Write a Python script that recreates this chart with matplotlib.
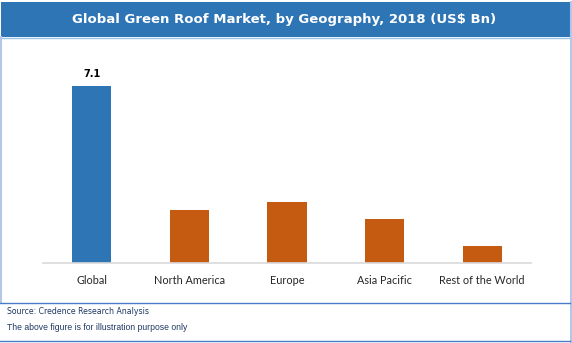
import matplotlib.pyplot as plt
from matplotlib.patches import Rectangle
from matplotlib.lines import Line2D

W, H = 572, 343

regions = ["Global", "North America", "Europe", "Asia Pacific", "Rest of the World"]
market_size = [7.1, 2.1, 2.43, 1.75, 0.66]
bar_colors = ["#2E75B6", "#C55A11", "#C55A11", "#C55A11", "#C55A11"]
value_labels = ["7.1", "", "", "", ""]

title = "Global Green Roof Market, by Geography, 2018 (US$ Bn)"
source_note = "Source: Credence Research Analysis"
footer_note = "The above figure is for illustration purpose only"


def fx(px):
    return px / W


def fy(py):
    return 1 - py / H


fig = plt.figure(figsize=(W / 100, H / 100), dpi=100)
fig.patch.set_facecolor("white")

# title bar
fig.patches.append(Rectangle((fx(1), fy(36.5)), fx(569), 34.5 / H,
                             transform=fig.transFigure, facecolor="#2E75B6",
                             edgecolor="none"))
fig.lines.append(Line2D([fx(1), fx(570)], [fy(37.5), fy(37.5)],
                        transform=fig.transFigure, color="#9DC3E6", lw=1))
fig.text(fx(284), fy(19.5), title, color="white", fontsize=9.5,
         fontweight="bold", ha="center", va="center", family="DejaVu Sans")

# side borders
fig.lines.append(Line2D([fx(1), fx(1)], [fy(37), fy(302)],
                        transform=fig.transFigure, color="#B4C7E7", lw=1.5))
fig.lines.append(Line2D([fx(570.5), fx(570.5)], [fy(2), fy(342)],
                        transform=fig.transFigure, color="#B4C7E7", lw=1.5))

# footer lines
fig.lines.append(Line2D([fx(0), fx(570)], [fy(302.5), fy(302.5)],
                        transform=fig.transFigure, color="#4A7CC9", lw=1))
fig.lines.append(Line2D([fx(0), fx(570)], [fy(341), fy(341)],
                        transform=fig.transFigure, color="#4A7CC9", lw=1))
fig.text(fx(7), fy(311), source_note, color="#1F3864", fontsize=5.6,
         ha="left", va="center", family="Liberation Sans Narrow")
fig.text(fx(7), fy(327.5), footer_note, color="#1F3864", fontsize=6.2,
         ha="left", va="center", family="Liberation Sans")

# plot area
ax_left, ax_right, ax_bottom, ax_top = 43, 531, 262.5, 60
ax = fig.add_axes([fx(ax_left), fy(ax_bottom), (ax_right - ax_left) / W,
                   (ax_bottom - ax_top) / H])
x = list(range(len(regions)))
bars = ax.bar(x, market_size, width=0.4, color=bar_colors, edgecolor="none")
ax.set_xlim(-0.5, len(regions) - 0.5)
ax.set_ylim(0, (ax_bottom - ax_top) / 24.8)

for b, lab in zip(bars, value_labels):
    if lab:
        ax.annotate(lab, (b.get_x() + b.get_width() / 2, b.get_height()),
                    xytext=(0, 5.5), textcoords="offset points", ha="center",
                    va="bottom", fontsize=7, fontweight="bold",
                    family="DejaVu Sans")

ax.set_xticks(x)
ax.set_xticklabels(regions, fontsize=7.8, color="#262626", family="Lato")
ax.tick_params(axis="x", length=0, pad=9)
ax.set_yticks([])
for side in ["top", "left", "right"]:
    ax.spines[side].set_visible(False)
ax.spines["bottom"].set_color("#D9D9D9")
ax.spines["bottom"].set_linewidth(1.2)

fig.savefig("out.png", dpi=100)
